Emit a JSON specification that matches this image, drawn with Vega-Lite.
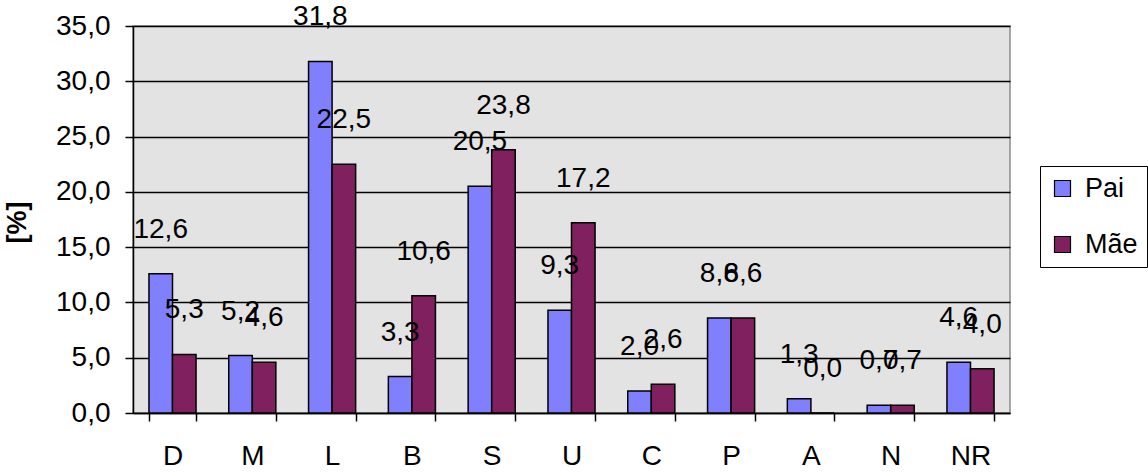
{
  "$schema": "https://vega.github.io/schema/vega-lite/v6.json",
  "autosize": "none",
  "width": 877,
  "height": 387,
  "padding": {"left": 133, "top": 26, "right": 138, "bottom": 63},
  "background": "white",
  "config": {
    "locale": {"number": {"decimal": ",", "thousands": ".", "grouping": [3], "currency": ["", " €"]}},
    "font": "Liberation Sans",
    "view": {"fill": "#E3E3E3", "stroke": "#8C8C8C", "strokeWidth": 1.5}
  },
  "data": {
    "values": [
      {"cat": "D", "serie": "Pai", "valor": 12.6},
      {"cat": "D", "serie": "Mãe", "valor": 5.3},
      {"cat": "M", "serie": "Pai", "valor": 5.2},
      {"cat": "M", "serie": "Mãe", "valor": 4.6},
      {"cat": "L", "serie": "Pai", "valor": 31.8},
      {"cat": "L", "serie": "Mãe", "valor": 22.5},
      {"cat": "B", "serie": "Pai", "valor": 3.3},
      {"cat": "B", "serie": "Mãe", "valor": 10.6},
      {"cat": "S", "serie": "Pai", "valor": 20.5},
      {"cat": "S", "serie": "Mãe", "valor": 23.8},
      {"cat": "U", "serie": "Pai", "valor": 9.3},
      {"cat": "U", "serie": "Mãe", "valor": 17.2},
      {"cat": "C", "serie": "Pai", "valor": 2.0},
      {"cat": "C", "serie": "Mãe", "valor": 2.6},
      {"cat": "P", "serie": "Pai", "valor": 8.6},
      {"cat": "P", "serie": "Mãe", "valor": 8.6},
      {"cat": "A", "serie": "Pai", "valor": 1.3},
      {"cat": "A", "serie": "Mãe", "valor": 0.0},
      {"cat": "N", "serie": "Pai", "valor": 0.7},
      {"cat": "N", "serie": "Mãe", "valor": 0.7},
      {"cat": "NR", "serie": "Pai", "valor": 4.6},
      {"cat": "NR", "serie": "Mãe", "valor": 4.0}
    ]
  },
  "encoding": {
    "x": {
      "field": "cat",
      "type": "nominal",
      "sort": null,
      "scale": {"paddingInner": 0.41, "paddingOuter": 0.2},
      "axis": {
        "title": null,
        "labelAngle": 0,
        "labelFontSize": 28,
        "labelColor": "#000",
        "labelPadding": 21,
        "tickBand": "extent",
        "tickSize": 8,
        "tickColor": "#000",
        "tickWidth": 1.5,
        "domainColor": "#000",
        "domainWidth": 1.5
      }
    },
    "xOffset": {"field": "serie", "type": "nominal", "sort": ["Pai", "Mãe"], "scale": {"paddingInner": 0}},
    "y": {
      "field": "valor",
      "type": "quantitative",
      "scale": {"domain": [0, 35], "nice": false},
      "axis": {
        "title": "[%]",
        "titleFontSize": 27,
        "titleFontWeight": "bold",
        "titleColor": "#000",
        "titleAngle": 270,
        "titleX": -116,
        "titleY": 196,
        "titleAlign": "center",
        "titleBaseline": "middle",
        "values": [0, 5, 10, 15, 20, 25, 30, 35],
        "format": ".1f",
        "labelFontSize": 28,
        "labelColor": "#000",
        "labelPadding": 15,
        "tickSize": 8,
        "tickColor": "#000",
        "tickWidth": 1.5,
        "domainColor": "#000",
        "domainWidth": 1.5,
        "grid": true,
        "gridColor": "#000",
        "gridWidth": 1.5
      }
    }
  },
  "layer": [
    {
      "mark": {"type": "bar", "stroke": "#000", "strokeWidth": 1.5},
      "encoding": {
        "color": {
          "field": "serie",
          "type": "nominal",
          "sort": ["Pai", "Mãe"],
          "scale": {"domain": ["Pai", "Mãe"], "range": ["#8080FF", "#80205F"]},
          "legend": {
            "title": null,
            "orient": "none",
            "legendX": 907,
            "legendY": 140,
            "direction": "vertical",
            "strokeColor": "#000",
            "fillColor": "#FFFFFF",
            "padding": 9,
            "symbolType": "square",
            "symbolSize": 256,
            "symbolStrokeColor": "#000",
            "symbolStrokeWidth": 1.2,
            "labelFontSize": 27,
            "labelColor": "#000",
            "labelOffset": 9,
            "rowPadding": 28
          }
        }
      }
    },
    {
      "mark": {"type": "text", "fontSize": 28, "color": "#000", "baseline": "middle", "dy": -44},
      "encoding": {
        "text": {"field": "valor", "type": "quantitative", "format": ".1f"}
      }
    }
  ]
}
